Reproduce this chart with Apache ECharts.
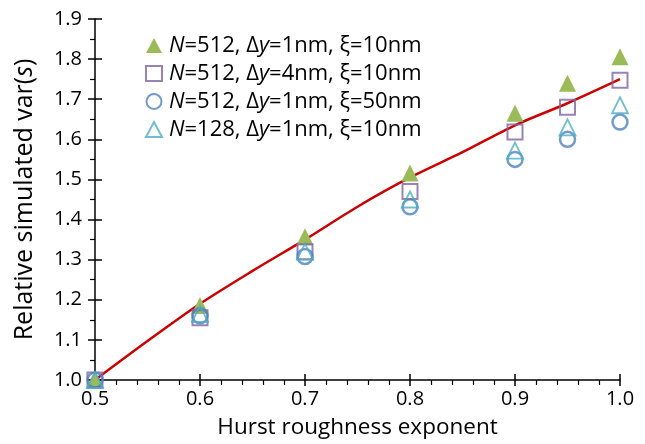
<!DOCTYPE html>
<html><head><meta charset="utf-8">
<script src="https://cdn.jsdelivr.net/npm/echarts@6/dist/echarts.min.js"></script>
<style>html,body{margin:0;padding:0;background:#fff}#c{width:645px;height:444px}</style>
</head><body><div id="c"></div>
<script>
const hurst = [0.5, 0.6, 0.7, 0.8, 0.9, 0.95, 1.0];
const sGreen = [1.0, 1.186, 1.357, 1.516, 1.665, 1.740, 1.806];
const sSquare = [1.0, 1.155, 1.320, 1.470, 1.618, 1.680, 1.747];
const sCircle = [1.0, 1.160, 1.308, 1.432, 1.550, 1.600, 1.643];
const sTri128 = [1.0, 1.165, 1.320, 1.450, 1.572, 1.630, 1.685];
const lineX = [0.5, 0.55, 0.6, 0.65, 0.7, 0.75, 0.8, 0.85, 0.9, 0.95, 1.0];
const lineY = [1.0, 1.097, 1.19, 1.272, 1.35, 1.432, 1.505, 1.568, 1.635, 1.69, 1.75];
const names = ['N=512, Δy=1nm, ξ=10nm','N=512, Δy=4nm, ξ=10nm','N=512, Δy=1nm, ξ=50nm','N=128, Δy=1nm, ξ=10nm'];

const FONT = 'Open Sans';
const zip = (a,b)=>a.map((v,i)=>[v,b[i]]);
const chart = echarts.init(document.getElementById('c'));
const axLine = {lineStyle:{color:'#000',width:1.5}};
function legendFmt(n){
  const m = n.match(/^N=(\d+), Δy=(\w+), ξ=(\w+)$/);
  return '{i|N}=' + m[1] + ', Δ{i|y}=' + m[2] + ', ξ=' + m[3];
}
chart.setOption({
  animation:false,
  textStyle:{fontFamily:FONT},
  grid:{left:95,right:25,top:19,bottom:62,containLabel:false},
  legend:{
    orient:'vertical', left:140, top:29, itemGap:5, itemWidth:16, itemHeight:15,
    data:names, formatter:legendFmt,
    textStyle:{fontFamily:FONT,fontSize:22,lineHeight:23,color:'#000',padding:[0,0,0,2],
      rich:{i:{fontStyle:'italic',fontFamily:FONT,fontSize:22,lineHeight:23,color:'#000'}}}
  },
  xAxis:[{
    type:'value', min:0.5, max:1.0, interval:0.1, position:'bottom',
    axisLine:axLine, splitLine:{show:false},
    axisTick:{show:true,inside:false,length:6,lineStyle:{color:'#000',width:1.5}},
    minorTick:{show:true,splitNumber:5,length:5,lineStyle:{color:'#000',width:1.2}},
    axisLabel:{fontSize:20,color:'#000',fontFamily:FONT,margin:9,formatter:v=>v.toFixed(1)},
    name:'Hurst roughness exponent', nameLocation:'middle', nameGap:36,
    nameTextStyle:{fontSize:22.5,color:'#000',fontFamily:FONT}
  },{
    type:'value', min:0.5, max:1.0, interval:0.1, position:'bottom',
    axisLine:{show:false}, splitLine:{show:false}, axisLabel:{show:false},
    axisTick:{show:true,inside:true,length:6,lineStyle:{color:'#000',width:1.5}}
  }],
  yAxis:[{
    type:'value', min:1.0, max:1.9, interval:0.1, position:'left',
    axisLine:axLine, splitLine:{show:false},
    axisTick:{show:true,inside:false,length:7,lineStyle:{color:'#000',width:1.5}},
    minorTick:{show:true,splitNumber:2,length:5,lineStyle:{color:'#000',width:1.2}},
    axisLabel:{fontSize:20,color:'#000',fontFamily:FONT,margin:13,formatter:v=>v.toFixed(1)},
    name:'Relative simulated var({i|s})', nameLocation:'middle', nameGap:58, nameRotate:90,
    nameTextStyle:{fontSize:25,color:'#000',fontFamily:FONT,rich:{i:{fontStyle:'italic',fontSize:25,fontFamily:FONT,color:'#000'}}}
  },{
    type:'value', min:1.0, max:1.9, interval:0.1, position:'left',
    axisLine:{show:false}, splitLine:{show:false}, axisLabel:{show:false},
    axisTick:{show:true,inside:true,length:7,lineStyle:{color:'#000',width:1.5}}
  }],
  series:[
    {type:'line', data:zip(lineX,lineY), showSymbol:false, smooth:0.3, lineStyle:{color:'#CC0000',width:2.5}, z:1, silent:true},
    {name:names[0], type:'scatter', data:zip(hurst,sGreen), symbol:'triangle', symbolSize:17,
     itemStyle:{color:'#9BBB59', opacity:1}, z:2},
    {name:names[1], type:'scatter', data:zip(hurst,sSquare), symbol:'rect', symbolSize:15,
     itemStyle:{color:'rgba(255,255,255,0)', borderColor:'#8064A2', borderWidth:2}, z:3},
    {name:names[2], type:'scatter', data:zip(hurst,sCircle), symbol:'circle', symbolSize:15,
     itemStyle:{color:'rgba(255,255,255,0)', borderColor:'#4F81BD', borderWidth:2.5}, z:4},
    {name:names[3], type:'scatter', data:zip(hurst,sTri128), symbol:'triangle', symbolSize:16,
     itemStyle:{color:'rgba(255,255,255,0)', borderColor:'#4BACC6', borderWidth:1.8}, z:5}
  ]
});
</script></body></html>
